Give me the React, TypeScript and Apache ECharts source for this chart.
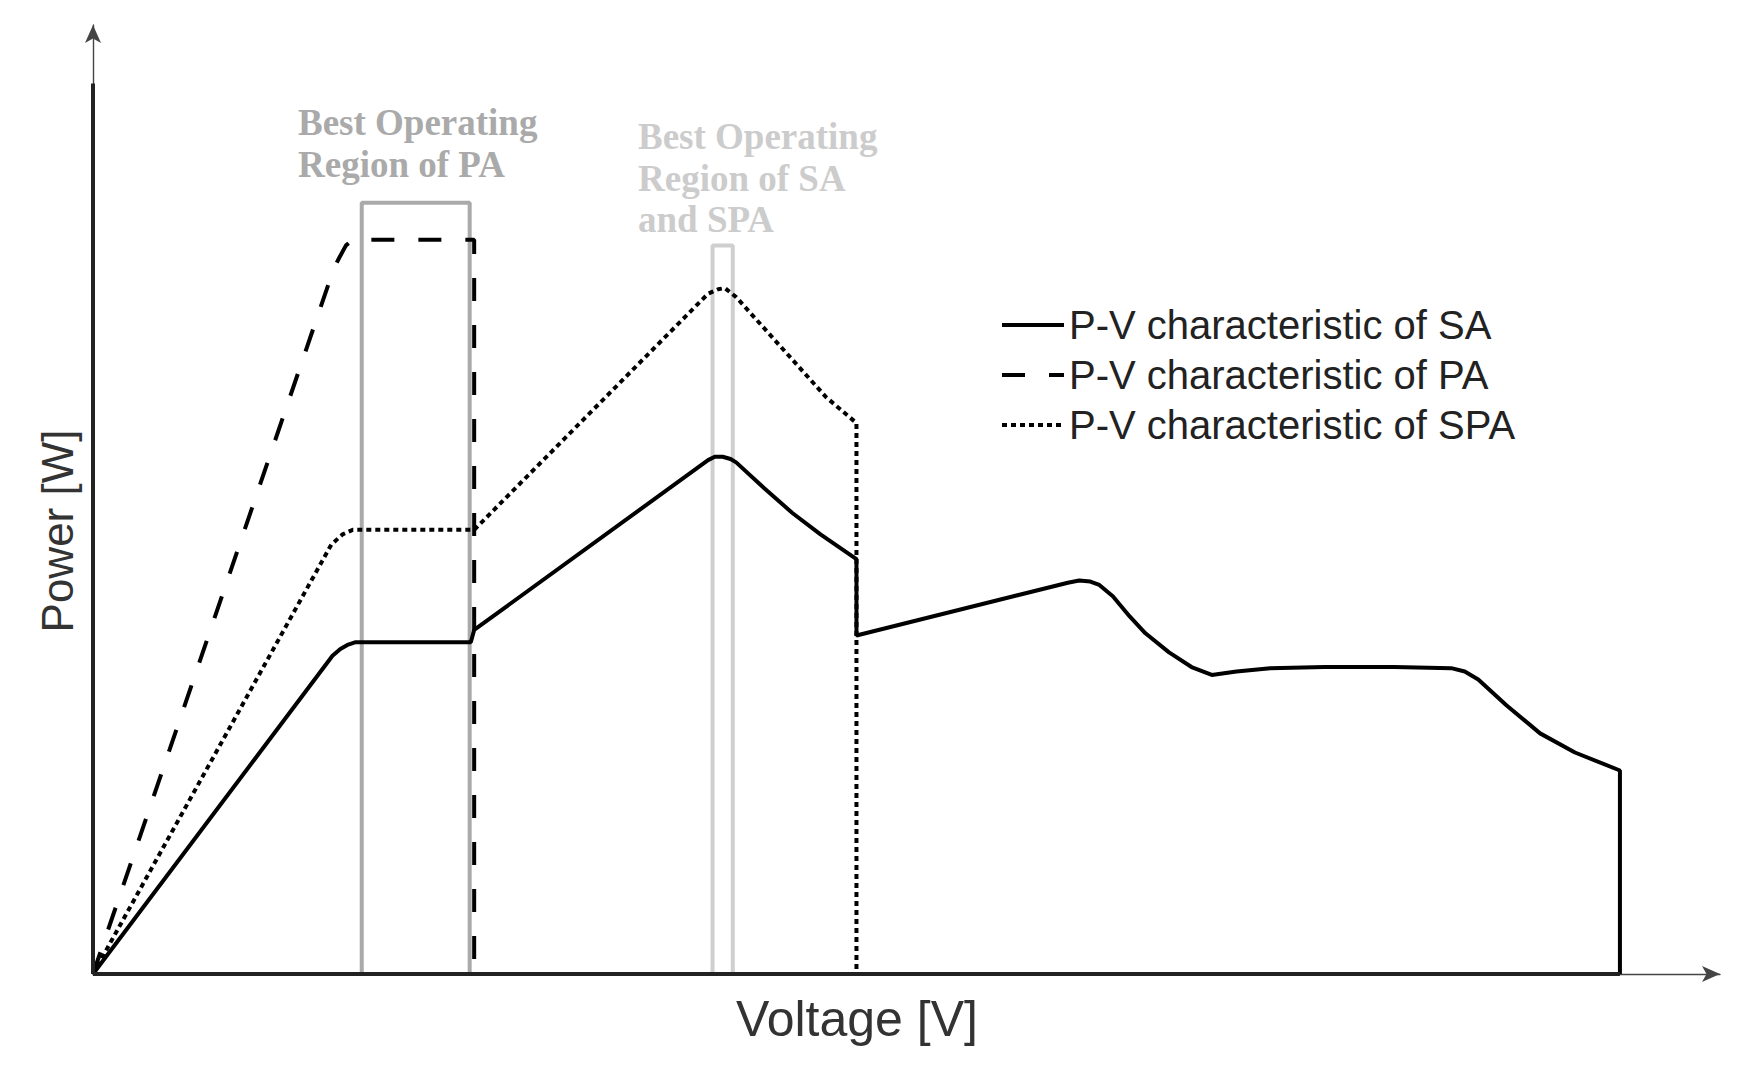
import React, { useEffect, useRef } from "react";
import * as echarts from "echarts";

// Arbitrary units (no ticks in the original figure)
const saVoltage = [0, 213, 220, 227, 233, 336, 339, 547, 553, 560, 567, 572, 597, 622, 647, 679, 679, 867, 877, 887, 895, 907, 922, 936, 957, 977, 995, 1017, 1047, 1095, 1157, 1208, 1220, 1232, 1257, 1287, 1318, 1358, 1358];
const saPower = [0, 283, 289, 293, 295, 295, 306, 457, 460, 460, 458, 455, 432, 410, 391, 369, 301, 348, 350, 349, 346, 336, 318, 303, 286, 273, 266, 269, 272, 273, 273, 272, 269, 262, 239, 214, 197, 181, 0];

const paVoltage = [0, 214, 219, 225, 231, 339, 339];
const paPower = [0, 627, 637, 648, 653, 653, 0];

const spaVoltage = [0, 212, 222, 231, 339, 547, 556, 562, 572, 652, 679, 679];
const spaPower = [0, 382, 391, 395, 395, 605, 609, 610, 602, 513, 490, 0];

// Best operating regions: [left, right] voltage and top power
const paRegionV = [239, 335];
const paRegionTop = 686;
const saRegionV = [551, 569];
const saRegionTop = 648;

// Axis extents
const voltageMax = 1447;
const powerMax = 844;
const thickAxisV = 1358;
const thickAxisP = 792;

const seriesNames = [
  "P-V characteristic of SA",
  "P-V characteristic of PA",
  "P-V characteristic of SPA",
];

const zip = (a: number[], b: number[]) => a.map((v, i) => [v, b[i]]);
const box = (v: number[], top: number) => [
  [v[0], 0],
  [v[0], top],
  [v[1], top],
  [v[1], 0],
  [v[0], 0],
];

export default function App() {
  const ref = useRef<HTMLDivElement>(null);
  useEffect(() => {
    document.body.style.margin = "0";
    const chart = echarts.init(ref.current!, undefined, { renderer: "svg" });
    chart.setOption({
      animation: false,
      backgroundColor: "#ffffff",
      grid: { left: 93, top: 25, width: 1627, height: 949, containLabel: false },
      xAxis: {
        type: "value",
        min: 0,
        max: voltageMax,
        axisLine: {
          show: true,
          symbol: ["none", "arrow"],
          symbolSize: [12, 18],
          lineStyle: { color: "#444", width: 1.4 },
        },
        axisTick: { show: false },
        axisLabel: { show: false },
        splitLine: { show: false },
      },
      yAxis: {
        type: "value",
        min: 0,
        max: powerMax,
        axisLine: {
          show: true,
          symbol: ["none", "arrow"],
          symbolSize: [12, 18],
          lineStyle: { color: "#444", width: 1.4 },
        },
        axisTick: { show: false },
        axisLabel: { show: false },
        splitLine: { show: false },
      },
      legend: {
        data: seriesNames,
        orient: "vertical",
        left: 1000,
        top: 305,
        padding: 0,
        itemWidth: 62,
        itemHeight: 14,
        itemGap: 10,
        itemStyle: { opacity: 0 },
        lineStyle: { width: 4 },
        textStyle: {
          fontSize: 40,
          fontFamily: "Liberation Sans, Arial, sans-serif",
          color: "#222",
          lineHeight: 40,
        },
      },
      series: [
        {
          name: "regionPA",
          type: "line",
          data: box(paRegionV, paRegionTop),
          symbol: "none",
          clip: false,
          z: 1,
          lineStyle: { color: "#aaaaaa", width: 4 },
          silent: true,
        },
        {
          name: "regionSA",
          type: "line",
          data: box(saRegionV, saRegionTop),
          symbol: "none",
          clip: false,
          z: 1,
          lineStyle: { color: "#cfcfcf", width: 4 },
          silent: true,
        },
        {
          name: seriesNames[0],
          type: "line",
          data: zip(saVoltage, saPower),
          symbol: "none",
          clip: false,
          z: 3,
          lineStyle: { color: "#000", width: 4, type: "solid" },
          itemStyle: { color: "#000" },
        },
        {
          name: seriesNames[1],
          type: "line",
          data: zip(paVoltage, paPower),
          symbol: "none",
          clip: false,
          z: 3,
          lineStyle: { color: "#000", width: 4, type: [23, 24] },
          itemStyle: { color: "#000" },
        },
        {
          name: seriesNames[2],
          type: "line",
          data: zip(spaVoltage, spaPower),
          symbol: "none",
          clip: false,
          z: 3,
          lineStyle: { color: "#000", width: 4, type: [5, 4] },
          itemStyle: { color: "#000" },
        },
        {
          name: "axisX",
          type: "line",
          data: [
            [0, 0],
            [thickAxisV, 0],
          ],
          symbol: "none",
          clip: false,
          z: 4,
          lineStyle: { color: "#222", width: 4 },
          silent: true,
        },
        {
          name: "axisY",
          type: "line",
          data: [
            [0, 0],
            [0, thickAxisP],
          ],
          symbol: "none",
          clip: false,
          z: 4,
          lineStyle: { color: "#222", width: 4 },
          silent: true,
        },
      ],
      graphic: [
        {
          type: "text",
          x: 298,
          y: 102,
          style: {
            text: "Best Operating\nRegion of PA",
            font: "bold 37px 'Liberation Serif', 'Times New Roman', serif",
            fill: "#aaaaaa",
            lineHeight: 41.5,
            verticalAlign: "top",
          },
        },
        {
          type: "text",
          x: 638,
          y: 116,
          style: {
            text: "Best Operating\nRegion of SA\nand SPA",
            font: "bold 37px 'Liberation Serif', 'Times New Roman', serif",
            fill: "#cccccc",
            lineHeight: 41.5,
            verticalAlign: "top",
          },
        },
        {
          type: "text",
          x: 57,
          y: 531,
          rotation: Math.PI / 2,
          style: {
            text: "Power [W]",
            font: "44px 'Liberation Sans', Arial, sans-serif",
            fill: "#333",
            align: "center",
            verticalAlign: "middle",
          },
        },
        {
          type: "text",
          x: 857,
          y: 1019,
          style: {
            text: "Voltage [V]",
            font: "50px 'Liberation Sans', Arial, sans-serif",
            fill: "#333",
            align: "center",
            verticalAlign: "middle",
          },
        },
      ],
    });
    return () => chart.dispose();
  }, []);
  return <div ref={ref} style={{ width: 1763, height: 1073 }} />;
}
